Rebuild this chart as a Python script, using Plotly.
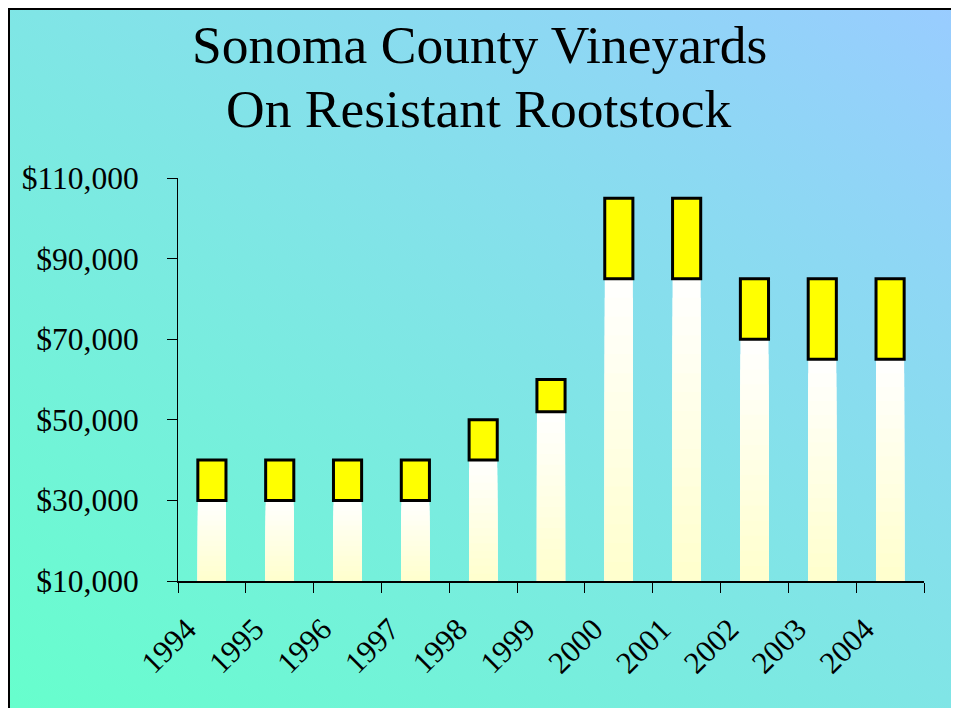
import base64
import plotly.graph_objects as go

# ---------------- data ----------------
years = ["1994", "1995", "1996", "1997", "1998", "1999",
         "2000", "2001", "2002", "2003", "2004"]
low_values = [30000, 30000, 30000, 30000, 40000, 52000,
              85000, 85000, 70000, 65000, 65000]
high_values = [40000, 40000, 40000, 40000, 50000, 60000,
               105000, 105000, 85000, 85000, 85000]
y_tick_vals = [10000, 30000, 50000, 70000, 90000, 110000]
y_tick_text = ["$10,000", "$30,000", "$50,000", "$70,000", "$90,000", "$110,000"]
title_lines = ["Sonoma County Vineyards", "On Resistant Rootstock"]

# ---------------- geometry (figure pixels; page body adds an 8px margin) ----------------
W, H = 943, 700                               # keep the page inside the 959x723 window
PL, PR, PT, PB = 170, 916, 170, 573          # plot area in figure pixels
Y_MIN, Y_MAX = 10000, 110000
FONT = "Liberation Serif, Times New Roman, serif"


def px_x(p):
    return (p - PL) / (PR - PL)


def px_y(p):
    return (PB - p) / (PB - PT)


# ---------------- background gradient (slide) ----------------
bg_w, bg_h = 951, 715
svg = f"""<svg xmlns='http://www.w3.org/2000/svg' width='{bg_w}' height='{bg_h}' viewBox='0 0 {bg_w} {bg_h}' preserveAspectRatio='none'>
<defs><linearGradient id='g' x1='0' y1='1' x2='1' y2='0'>
<stop offset='0' stop-color='#66FFCC'/><stop offset='1' stop-color='#99CCFF'/>
</linearGradient></defs>
<rect x='0' y='0' width='{bg_w}' height='{bg_h}' fill='url(#g)'/></svg>"""
svg_uri = "data:image/svg+xml;base64," + base64.b64encode(svg.encode()).decode()

fig = go.Figure()

# white lower bars with a white -> pale yellow vertical gradient (stacked overlay steps)
N = 16
gx, gy, gc = [], [], []
for k in range(N):
    frac = 1 - k / N
    h = 1 - (k + 0.5) / N
    blue = round(204 + 51 * h)
    col = f"rgb(255,255,{blue})"
    for yr, lo in zip(years, low_values):
        gx.append(yr)
        gy.append((lo - Y_MIN) * frac)
        gc.append(col)
fig.add_trace(go.Bar(
    x=gx, y=gy, base=Y_MIN, width=0.415,
    marker=dict(color=gc, line=dict(width=0)),
    hoverinfo="skip", showlegend=False,
))

# yellow upper boxes
fig.add_trace(go.Bar(
    x=years,
    y=[hi - lo for hi, lo in zip(high_values, low_values)],
    base=low_values, width=0.415,
    marker=dict(color="#FFFF00", line=dict(color="black", width=3)),
    showlegend=False,
))

border = dict(color="black", width=2.5)
fig.update_layout(
    width=W, height=H, autosize=False,
    margin=dict(l=PL, r=W - PR, t=PT, b=H - PB, pad=0),
    paper_bgcolor="white", plot_bgcolor="rgba(0,0,0,0)",
    barmode="overlay",
    font=dict(family=FONT, color="black"),
    xaxis=dict(
        type="category", categoryorder="array", categoryarray=years,
        range=[-0.5, len(years) - 0.5],
        tickson="boundaries", ticks="outside", ticklen=10, tickwidth=1,
        tickcolor="black", showline=True, linecolor="black", linewidth=1.5,
        showgrid=False, zeroline=False, tickangle=-45,
        ticklabelstandoff=16, ticklabelshift=-25,
        tickfont=dict(family=FONT, size=31, color="black"),
    ),
    yaxis=dict(
        range=[Y_MIN, Y_MAX], tickvals=y_tick_vals, ticktext=y_tick_text,
        ticks="outside", ticklen=10, tickwidth=1, tickcolor="black",
        showline=True, linecolor="black", linewidth=1,
        showgrid=False, zeroline=False, ticklabelstandoff=22,
        tickfont=dict(family=FONT, size=31.5, color="black"),
    ),
    images=[dict(
        source=svg_uri, xref="paper", yref="paper",
        x=px_x(0), y=px_y(0), sizex=bg_w / (PR - PL), sizey=bg_h / (PB - PT),
        xanchor="left", yanchor="top", sizing="stretch", layer="below",
    )],
    shapes=[
        dict(type="line", xref="paper", yref="paper",
             x0=px_x(0.75), x1=px_x(0.75), y0=px_y(0), y1=px_y(H),
             line=border, layer="below"),
        dict(type="line", xref="paper", yref="paper",
             x0=px_x(0), x1=px_x(W), y0=px_y(0.75), y1=px_y(0.75),
             line=border, layer="below"),
    ],
    annotations=[
        dict(text=title_lines[0], xref="paper", yref="paper",
             x=px_x(471), y=px_y(5), xanchor="center", yanchor="top",
             showarrow=False, font=dict(family=FONT, size=53.5, color="black")),
        dict(text=title_lines[1], xref="paper", yref="paper",
             x=px_x(471), y=px_y(69), xanchor="center", yanchor="top",
             showarrow=False, font=dict(family=FONT, size=53.5, color="black")),
    ],
)

fig.write_html("out.html")
